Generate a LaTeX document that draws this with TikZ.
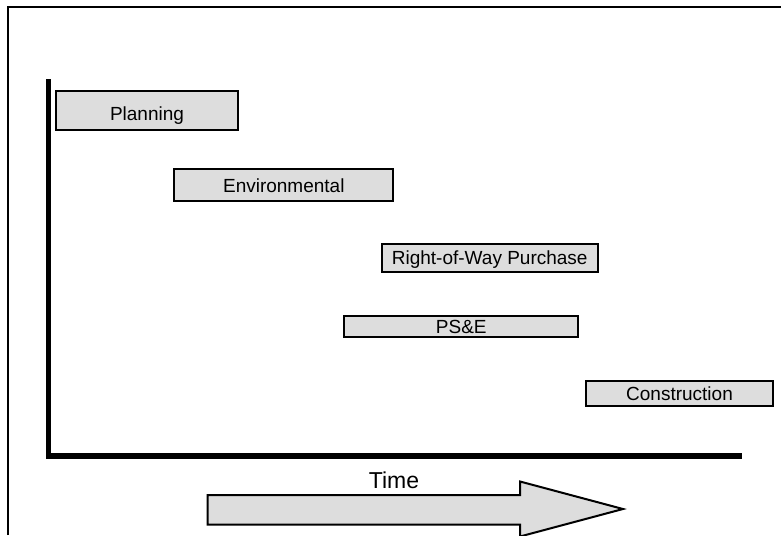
\documentclass[tikz,border=0pt]{standalone}
\usepackage{fontspec}
\setmainfont{Liberation Sans}
\definecolor{boxgray}{RGB}{221,221,221}
\begin{document}
\begin{tikzpicture}[x=1pt,y=-1pt,
  bar/.style={draw=black,fill=boxgray,line width=2pt,rectangle,inner sep=0pt,outer sep=0pt},
  lbl/.style={anchor=base,inner sep=0pt,font=\fontsize{19}{22}\selectfont},
  frameline/.style={line width=2pt,line cap=rect},
  axisline/.style={line width=5.5pt,line cap=butt}]
\useasboundingbox (0,0) rectangle (781,535);
% frame
\coordinate (fb) at (8.3,535);
\coordinate (fc) at (8.3,6.8);
\coordinate (fr) at (781,6.8);
\draw[line width=2pt] (fb) -- (fc) -- (fr);
% axes
\coordinate (atop) at (48.7,79);
\coordinate (aorig) at (48.7,456);
\coordinate (aend) at (742,456);
\draw[axisline] (atop) -- (aorig) -- (aend);
% bars
\node[bar,minimum width=182pt,minimum height=38.7pt] (plan) at (147,110.35) {};
\node[lbl] (plant) at (147,120) {Planning};
\node[bar,minimum width=219pt,minimum height=31.4pt] (env) at (283.8,185) {};
\node[lbl] (envt) at (283.8,192.3) {Environmental};
\node[bar,minimum width=216pt,minimum height=28pt] (row) at (489.7,258.3) {};
\node[lbl] (rowt) at (489.7,264.5) {Right-of-Way Purchase};
\node[bar,minimum width=234pt,minimum height=21.3pt] (pse) at (461.3,326.65) {};
\node[lbl] (pset) at (461.3,333.3) {PS\&E};
\node[bar,minimum width=187pt,minimum height=24.7pt] (con) at (679.5,393.35) {};
\node[lbl] (cont) at (679.5,400.7) {Construction};
% time arrow
\draw[bar,line join=miter] (207.7,495) -- (520,495) -- (520,481.5) -- (623,509) -- (520,536.5) -- (520,524.5) -- (207.7,524.5) -- cycle;
\node[anchor=base,inner sep=0pt,font=\fontsize{23}{26}\selectfont] (time) at (394,488) {Time};
\end{tikzpicture}
\end{document}
